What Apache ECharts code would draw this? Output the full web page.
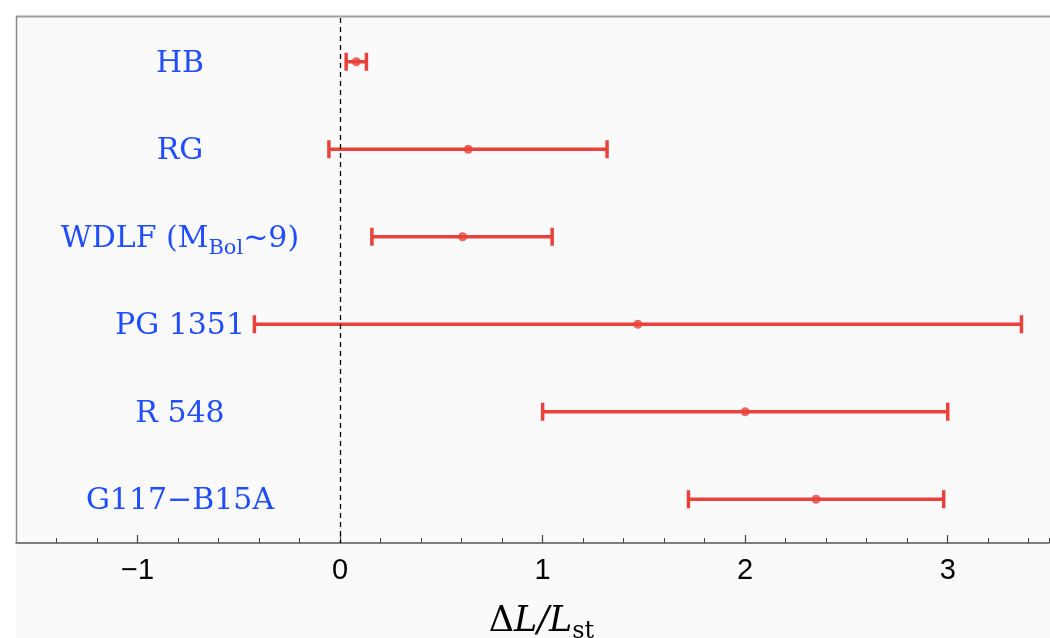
<!DOCTYPE html>
<html>
<head>
<meta charset="utf-8">
<script src="https://cdn.jsdelivr.net/npm/echarts@6/dist/echarts.min.js"></script>
<style>
html,body{margin:0;padding:0;background:#fff;}
#c{width:1050px;height:638px;}
</style>
</head>
<body>
<div id="c"></div>
<script>
// Data
const categories = ['HB', 'RG', 'WDLF (M_Bol~9)', 'PG 1351', 'R 548', 'G117\u2212B15A'];
const lowValues  = [0.03, -0.055, 0.157, -0.423, 1.00, 1.72];
const midValues  = [0.08, 0.633, 0.605, 1.47, 2.00, 2.35];
const highValues = [0.13, 1.318, 1.047, 3.364, 3.00, 2.98];
const majorTicks = [-1, 0, 1, 2, 3];

const RED = '#e8423b';
const BLUE = '#1f4dff';

const errData = categories.map((c, i) => [i, lowValues[i], midValues[i], highValues[i]]);
const midData = categories.map((c, i) => [midValues[i], i]);

const chart = echarts.init(document.getElementById('c'));
chart.setOption({
  animation: false,
  backgroundColor: '#ffffff',
  graphic: [
    {type: 'rect', left: 16, top: 16, z: -10, silent: true,
     shape: {width: 1034, height: 622}, style: {fill: '#fafafa'}},
    {type: 'line', z: 10, silent: true, shape: {x1: 16, y1: 16.5, x2: 1050, y2: 16.5},
     style: {stroke: '#a0a0a0', lineWidth: 2}},
    {type: 'line', z: 10, silent: true, shape: {x1: 16.5, y1: 16, x2: 16.5, y2: 543},
     style: {stroke: '#888888', lineWidth: 1.5}}
  ],
  grid: {left: 16, right: 1, top: 18, bottom: 95, containLabel: false, outerBoundsMode: 'none'},
  xAxis: [
    {
      type: 'value', min: -1.6, max: 3.5, position: 'bottom',
      splitLine: {show: false},
      axisLine: {show: true, onZero: false, lineStyle: {color: '#555', width: 1.5}},
      axisTick: {show: true, inside: true, length: 8, customValues: majorTicks, lineStyle: {color: '#444', width: 1.2}},
      axisLabel: {
        customValues: majorTicks, margin: 13,
        fontFamily: 'Liberation Sans, Arial, sans-serif', fontSize: 29, color: '#000',
        formatter: v => (v < 0 ? '\u2212' + Math.abs(v) : String(v))
      },
      name: '{n|\u0394}{i|L/L}{s|st}',
      nameLocation: 'middle', nameGap: 61,
      nameTextStyle: {
        padding: [0, 0, 0, 18],
        rich: {
          n: {fontFamily: 'DejaVu Serif', fontSize: 35, color: '#000', verticalAlign: 'top', lineHeight: 36},
          i: {fontFamily: 'DejaVu Serif', fontStyle: 'italic', fontSize: 35, color: '#000', verticalAlign: 'top', lineHeight: 36},
          s: {fontFamily: 'DejaVu Serif', fontSize: 24, color: '#000', verticalAlign: 'top', lineHeight: 24, padding: [16, 0, 0, 0]}
        }
      }
    },
    {
      type: 'value', min: -1.6, max: 3.5, interval: 0.2, position: 'bottom',
      splitLine: {show: false},
      axisLine: {show: false},
      axisTick: {show: true, inside: true, length: 5, lineStyle: {color: '#444', width: 1}},
      axisLabel: {show: false}
    }
  ],
  yAxis: {
    type: 'category', data: categories, inverse: true,
    axisLine: {show: false}, axisTick: {show: false}, splitLine: {show: false},
    axisLabel: {
      margin: -164, align: 'center', padding: [6, 0, 0, 0],
      formatter: v => {
        if (v.indexOf('_') >= 0) {
          const m = v.match(/^(.*)_(\w+)(.*)$/);
          return '{m|' + m[1] + '}{s|' + m[2] + '}{m|' + m[3] + '}';
        }
        return '{m|' + v + '}';
      },
      rich: {
        m: {fontFamily: 'DejaVu Serif', fontSize: 30, color: BLUE, verticalAlign: 'top', lineHeight: 32},
        s: {fontFamily: 'DejaVu Serif', fontSize: 21, color: BLUE, verticalAlign: 'top', lineHeight: 21, padding: [14, 0, 0, 0]}
      }
    }
  },
  series: [
    {
      type: 'custom',
      xAxisIndex: 0,
      data: errData,
      renderItem: (params, api) => {
        const idx = api.value(0);
        const lo = api.coord([api.value(1), idx]);
        const hi = api.coord([api.value(3), idx]);
        const h = 9;
        const st = {stroke: RED, lineWidth: 3.5};
        return {
          type: 'group',
          children: [
            {type: 'line', shape: {x1: lo[0], y1: lo[1], x2: hi[0], y2: hi[1]}, style: st},
            {type: 'line', shape: {x1: lo[0], y1: lo[1] - h, x2: lo[0], y2: lo[1] + h}, style: st},
            {type: 'line', shape: {x1: hi[0], y1: hi[1] - h, x2: hi[0], y2: hi[1] + h}, style: st}
          ]
        };
      },
      encode: {x: [1, 2, 3], y: 0},
      z: 3
    },
    {
      type: 'scatter',
      xAxisIndex: 0,
      data: midData,
      symbol: 'circle', symbolSize: 9,
      itemStyle: {color: RED},
      z: 4,
      markLine: {
        silent: true, symbol: 'none', label: {show: false},
        lineStyle: {color: '#000', type: [5, 4], width: 1.3},
        data: [{xAxis: 0}]
      }
    }
  ]
});
</script>
</body>
</html>
